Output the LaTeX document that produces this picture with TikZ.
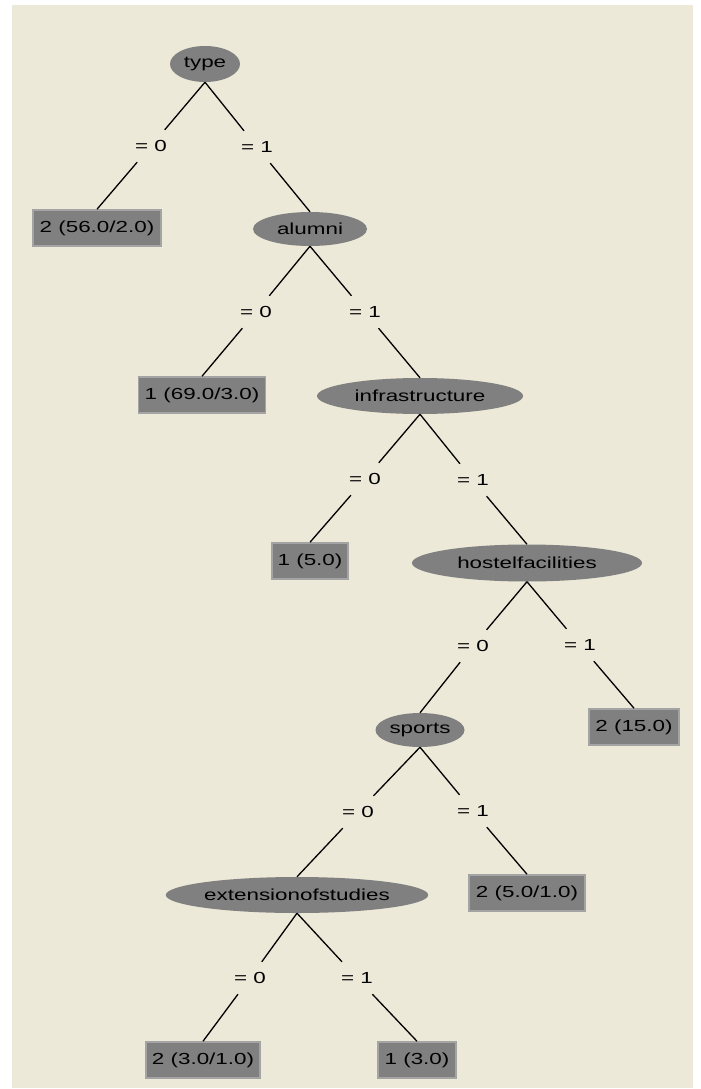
\documentclass[tikz,border=0pt]{standalone}
\usepackage{fontspec}
\usetikzlibrary{shapes.geometric}
\newfontfamily\treefont[FakeStretch=1.4]{Liberation Sans}
\definecolor{panel}{HTML}{ECE9D8}
\definecolor{nodegray}{HTML}{808080}
\definecolor{edgegray}{HTML}{A4A4A4}
\begin{document}
\begin{tikzpicture}[x=1pt, y=-1pt,
    every node/.style={font=\treefont\fontsize{16}{18}\selectfont, inner sep=0pt},
    attr/.style={ellipse, fill=nodegray, minimum height=36},
    leaf/.style={rectangle, fill=nodegray, draw=edgegray, line width=1.5pt, minimum height=36},
    val/.style={minimum width=1, minimum height=32},
    branch/.style={line width=1.3pt}]
    \useasboundingbox (0,0) rectangle (701,1089);
    \fill[white] (0,0) rectangle (701,1089);
    \fill[panel] (12,5) rectangle (693,1088);

    % tests and leaves
    \node[attr, minimum width=70] (type) at (205,64) {type};
    \node[leaf, minimum width=128] (leafA) at (97,228) {2 (56.0/2.0)};
    \node[attr, minimum width=114, minimum height=34] (alumni) at (310,229) {alumni};
    \node[leaf, minimum width=127] (leafB) at (202,395) {1 (69.0/3.0)};
    \node[attr, minimum width=206] (infra) at (420,396) {infrastructure};
    \node[leaf, minimum width=76] (leafC) at (310,561) {1 (5.0)};
    \node[attr, minimum width=230, minimum height=37] (hostel) at (527,563) {hostelfacilities};
    \node[leaf, minimum width=90] (leafD) at (634,727) {2 (15.0)};
    \node[attr, minimum width=89, minimum height=34] (sports) at (420,730) {sports};
    \node[leaf, minimum width=116] (leafE) at (527,893) {2 (5.0/1.0)};
    \node[attr, minimum width=260] (ext) at (297,895) {extensionofstudies};
    \node[leaf, minimum width=114] (leafF) at (203,1060) {2 (3.0/1.0)};
    \node[leaf, minimum width=78] (leafG) at (417,1060) {1 (3.0)};

    % branch values
    \node[val] (t0) at (151,146) {= 0};
    \node[val] (t1) at (257,147) {= 1};
    \node[val] (a0) at (256,312) {= 0};
    \node[val] (a1) at (365,312) {= 1};
    \node[val] (i0) at (365,479) {= 0};
    \node[val] (i1) at (473,480) {= 1};
    \node[val] (h0) at (473,646) {= 0};
    \node[val] (h1) at (580,645) {= 1};
    \node[val] (s0) at (358,812) {= 0};
    \node[val] (s1) at (473,811) {= 1};
    \node[val] (e0) at (250,978) {= 0};
    \node[val] (e1) at (357,978) {= 1};

    \draw[branch] (type.south) -- (t0) -- (leafA.north);
    \draw[branch] (type.south) -- (t1) -- (alumni.north);
    \draw[branch] (alumni.south) -- (a0) -- (leafB.north);
    \draw[branch] (alumni.south) -- (a1) -- (infra.north);
    \draw[branch] (infra.south) -- (i0) -- (leafC.north);
    \draw[branch] (infra.south) -- (i1) -- (hostel.north);
    \draw[branch] (hostel.south) -- (h0) -- (sports.north);
    \draw[branch] (hostel.south) -- (h1) -- (leafD.north);
    \draw[branch] (sports.south) -- (s0) -- (ext.north);
    \draw[branch] (sports.south) -- (s1) -- (leafE.north);
    \draw[branch] (ext.south) -- (e0) -- (leafF.north);
    \draw[branch] (ext.south) -- (e1) -- (leafG.north);
\end{tikzpicture}
\end{document}
